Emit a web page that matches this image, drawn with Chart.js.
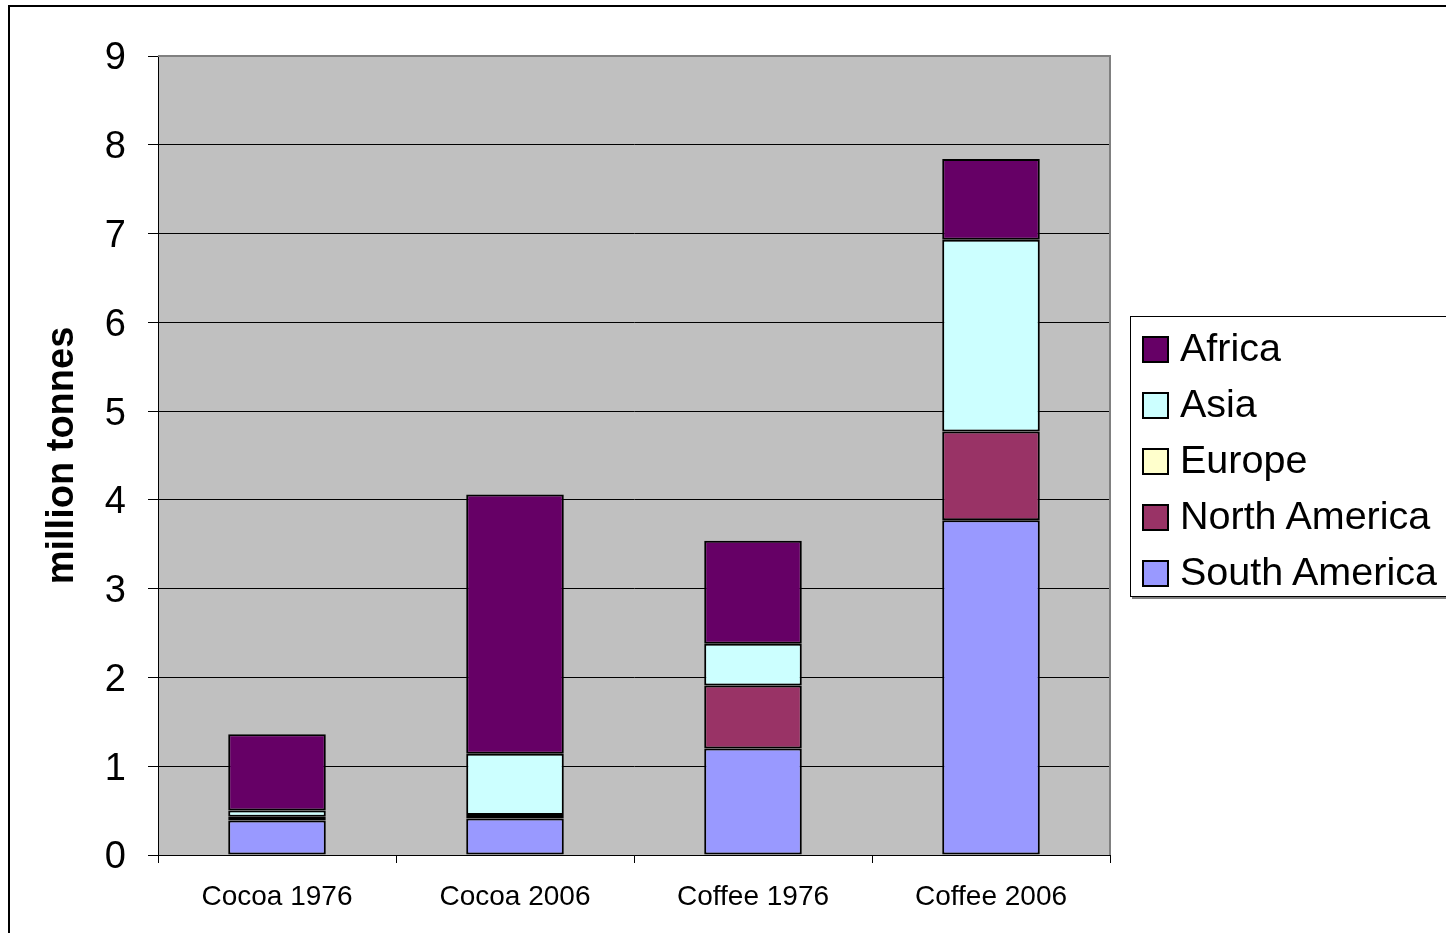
<!DOCTYPE html>
<html>
<head>
<meta charset="utf-8">
<script src="https://cdn.jsdelivr.net/npm/chart.js@4"></script>
<style>
    html, body { margin: 0; padding: 0; background: #fff; overflow: hidden; }
    #wrap { position: relative; width: 1446px; height: 933px; overflow: hidden; }
    #frame { position: absolute; left: 8px; top: 5px; width: 1500px; height: 1000px; border: 2px solid #000; box-sizing: border-box; }
    #chart { position: absolute; left: 0; top: 0; }
    #legend {
        position: absolute; left: 1130px; top: 316px; width: 340px; height: 279px;
        border: 1px solid #000; box-shadow: 2px 2px 0 #808080; background: #fff;
        font-family: "Liberation Sans", Arial, sans-serif; font-size: 39.5px; color: #000;
    }
    .item { position: absolute; left: 0; height: 56px; line-height: 56px; white-space: nowrap; }
    .sw { position: absolute; left: 11px; top: 16px; width: 23px; height: 23px; border: 2px solid #000; }
    .lbl { position: absolute; left: 49px; top: -1px; }
</style>
</head>
<body>
<div id="wrap">
    <div id="frame"></div>
    <canvas id="chart" width="1446" height="933"></canvas>
    <div id="legend"></div>
</div>
<script>
// Categories and series (million tonnes), stacked bottom to top
const categories = ['Cocoa 1976', 'Cocoa 2006', 'Coffee 1976', 'Coffee 2006'];
const southAmerica = [0.39, 0.41, 1.20, 3.77];
const northAmerica = [0.04, 0.04, 0.71, 1.00];
const europe = [0, 0, 0, 0];
const asia = [0.07, 0.69, 0.47, 2.16];
const africa = [0.86, 2.92, 1.16, 0.91];

const yTicks = [0, 1, 2, 3, 4, 5, 6, 7, 8, 9];

const seriesNames = ['South America', 'North America', 'Europe', 'Asia', 'Africa'];
const seriesData = [southAmerica, northAmerica, europe, asia, africa];
const seriesColors = ['#9999FF', '#993366', '#FFFFCC', '#CCFFFF', '#660066'];

const FONT = '"Liberation Sans", Arial, sans-serif';

// Grey plot area with grey border on top/right
const plotBackground = {
    id: 'plotBackground',
    beforeDraw(chart) {
        const { ctx, chartArea: a } = chart;
        ctx.save();
        ctx.fillStyle = '#C0C0C0';
        ctx.fillRect(a.left, a.top, a.right - a.left, a.bottom - a.top);
        ctx.restore();
    },
    beforeDatasetsDraw(chart) {
        const { ctx, chartArea: a } = chart;
        ctx.save();
        ctx.strokeStyle = '#808080';
        ctx.lineWidth = 2;
        ctx.beginPath();
        ctx.moveTo(a.left, a.top);
        ctx.lineTo(a.right, a.top);
        ctx.lineTo(a.right, a.bottom);
        ctx.stroke();
        ctx.restore();
    }
};

const datasets = seriesNames.map((name, i) => ({
    label: name,
    data: seriesData[i],
    backgroundColor: seriesColors[i],
    borderColor: '#000',
    borderWidth: 2,
    borderSkipped: false,
    barPercentage: 0.41,
    categoryPercentage: 1
}));

new Chart(document.getElementById('chart'), {
    type: 'bar',
    data: { labels: categories, datasets: datasets },
    options: {
        responsive: false,
        animation: false,
        devicePixelRatio: 1,
        layout: { padding: { left: 0, top: 56, right: 336, bottom: 0 } },
        plugins: { legend: { display: false }, tooltip: { enabled: false } },
        scales: {
            x: {
                stacked: true,
                grid: { drawOnChartArea: false, color: '#000', tickLength: 8, offset: true },
                border: { color: '#000', width: 1 },
                ticks: { color: '#000', font: { family: FONT, size: 28 }, padding: 17 },
                afterFit(scale) { scale.height = 78; }
            },
            y: {
                stacked: true,
                min: 0,
                max: 9,
                afterBuildTicks(scale) { scale.ticks = yTicks.map(v => ({ value: v })); },
                grid: { color: '#000', tickLength: 10, lineWidth: 1 },
                border: { color: '#000', width: 1 },
                ticks: { color: '#000', font: { family: FONT, size: 38 }, padding: 22, labelOffset: 3 },
                title: {
                    display: true,
                    text: 'million tonnes',
                    color: '#000',
                    font: { family: FONT, size: 38, weight: 'bold' },
                    padding: { top: 40 }
                },
                afterFit(scale) { scale.width = 158; }
            }
        }
    },
    plugins: [plotBackground]
});

// HTML legend, Africa first (reverse of stacking order)
const legend = document.getElementById('legend');
seriesNames.slice().reverse().forEach((name, i) => {
    const idx = seriesNames.length - 1 - i;
    const item = document.createElement('div');
    item.className = 'item';
    item.style.top = (3 + i * 56) + 'px';
    item.innerHTML = `<span class="sw" style="background:${seriesColors[idx]}"></span><span class="lbl">${name}</span>`;
    legend.appendChild(item);
});
</script>
</body>
</html>
